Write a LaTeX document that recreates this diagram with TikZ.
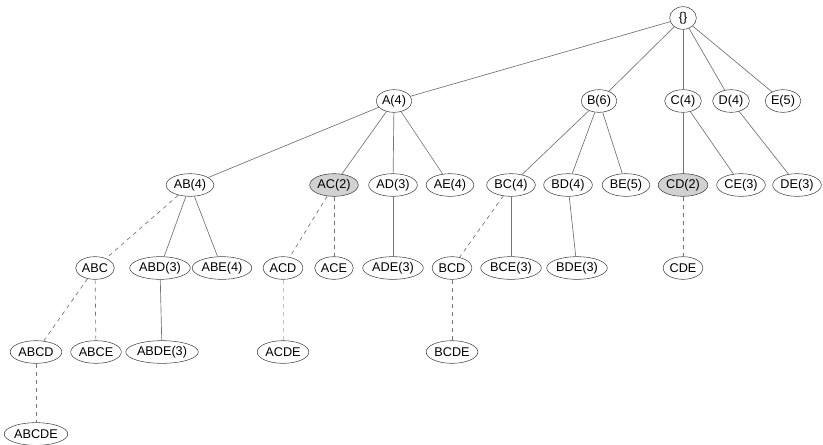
\documentclass[tikz,border=0pt]{standalone}
\usepackage{fontspec}
\setmainfont{Liberation Sans}
\usetikzlibrary{shapes.geometric}

\begin{document}
\begin{tikzpicture}[x=0.75pt,y=-0.75pt,
  set/.style={draw=black!75,shape=ellipse,inner xsep=0.5pt,inner ysep=0pt,
    minimum width=20pt,minimum height=17pt,font=\fontsize{9.5}{10}\selectfont},
  infreq/.style={set,fill=black!18},
  link/.style={draw=black!55,line width=0.5pt},
  cand/.style={link,dashed}]
  \useasboundingbox (0,0) rectangle (823,444);
  % level 0 and 1
  \node[set] (root) at (683,18) {\{\}};
  \node[set] (a) at (394,101) {A(4)};
  \node[set] (b) at (599,101) {B(6)};
  \node[set] (c) at (683,101) {C(4)};
  \node[set] (d) at (731,101) {D(4)};
  \node[set] (e) at (783,101) {E(5)};
  % level 2
  \node[set] (ab) at (190,185) {AB(4)};
  \node[infreq] (ac) at (334,185) {AC(2)};
  \node[set] (ad) at (393,185) {AD(3)};
  \node[set] (ae) at (450,185) {AE(4)};
  \node[set] (bc) at (511,185) {BC(4)};
  \node[set] (bd) at (568,185) {BD(4)};
  \node[set] (be) at (626,185) {BE(5)};
  \node[infreq] (cd) at (683,185) {CD(2)};
  \node[set] (ce) at (741,185) {CE(3)};
  \node[set] (de) at (797,185) {DE(3)};
  % level 3
  \node[set] (abc) at (95,268) {ABC};
  \node[set] (abd) at (160,268) {ABD(3)};
  \node[set] (abe) at (222,268) {ABE(4)};
  \node[set] (acd) at (283,268) {ACD};
  \node[set] (ace) at (334,268) {ACE};
  \node[set] (ade) at (393,268) {ADE(3)};
  \node[set] (bcd) at (452,268) {BCD};
  \node[set] (bce) at (511,268) {BCE(3)};
  \node[set] (bde) at (577,268) {BDE(3)};
  \node[set] (cde) at (683,268) {CDE};
  % level 4 and 5
  \node[set] (abcd) at (36,352) {ABCD};
  \node[set] (abce) at (96,352) {ABCE};
  \node[set] (abde) at (162,352) {ABDE(3)};
  \node[set] (acde) at (283,352) {ACDE};
  \node[set] (bcde) at (452,352) {BCDE};
  \node[set] (abcde) at (36,434) {ABCDE};
  % edges
  \draw[link] (root) -- (a);
  \draw[link] (root) -- (b);
  \draw[link] (root) -- (c);
  \draw[link] (root) -- (d);
  \draw[link] (root) -- (e);
  \draw[link] (a) -- (ab);
  \draw[link] (a) -- (ac);
  \draw[link] (a) -- (ad);
  \draw[link] (a) -- (ae);
  \draw[link] (b) -- (bc);
  \draw[link] (b) -- (bd);
  \draw[link] (b) -- (be);
  \draw[link] (c) -- (cd);
  \draw[link] (c) -- (ce);
  \draw[link] (d) -- (de);
  \draw[cand] (ab) -- (abc);
  \draw[link] (ab) -- (abd);
  \draw[link] (ab) -- (abe);
  \draw[cand] (ac) -- (acd);
  \draw[cand] (ac) -- (ace);
  \draw[link] (ad) -- (ade);
  \draw[cand] (bc) -- (bcd);
  \draw[link] (bc) -- (bce);
  \draw[link] (bd) -- (bde);
  \draw[cand] (cd) -- (cde);
  \draw[cand] (abc) -- (abcd);
  \draw[cand] (abc) -- (abce);
  \draw[link] (abd) -- (abde);
  \draw[cand,draw=black!25] (acd) -- (acde);
  \draw[cand] (bcd) -- (bcde);
  \draw[cand] (abcd) -- (abcde);
\end{tikzpicture}
\end{document}
